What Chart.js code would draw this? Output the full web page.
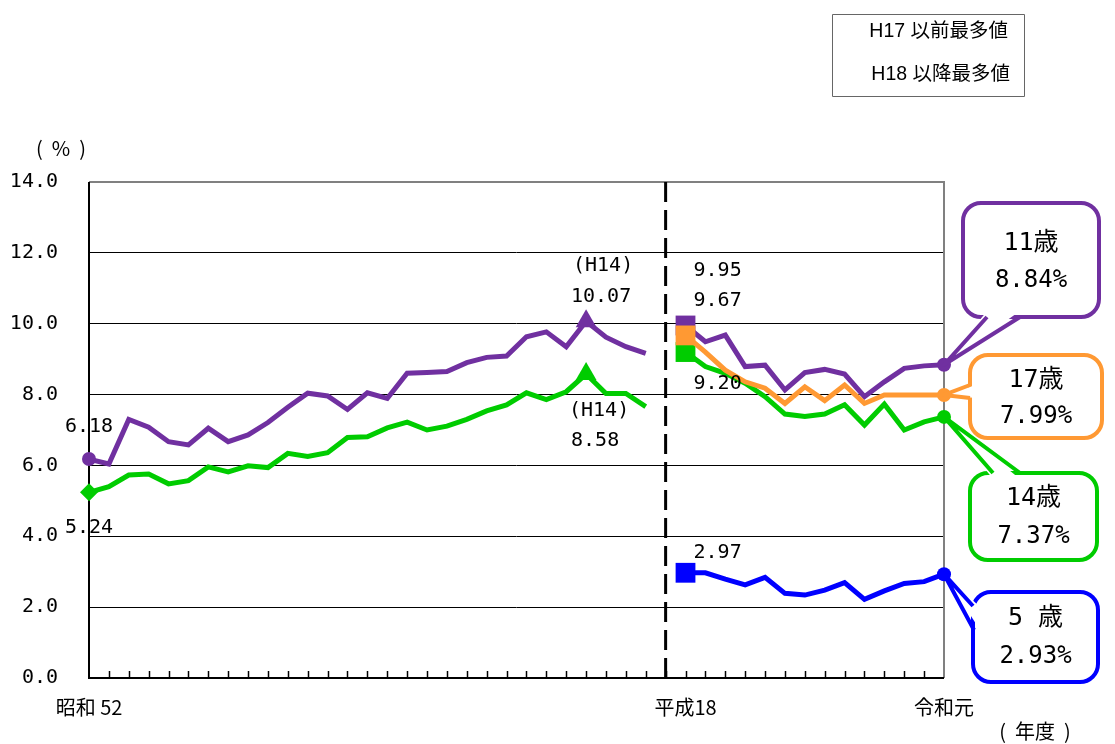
<!DOCTYPE html>
<html><head><meta charset="utf-8">
<script src="https://cdn.jsdelivr.net/npm/chart.js@4.4.0/dist/chart.umd.min.js"></script>
<style>html,body{margin:0;padding:0;background:#fff;}#wrap{width:1115px;height:744px;}</style>
</head><body><div id="wrap"><canvas id="c" width="1115" height="744"></canvas></div>
<script>
const categories = ['S52','S53','S54','S55','S56','S57','S58','S59','S60','S61','S62','S63',
  'H1','H2','H3','H4','H5','H6','H7','H8','H9','H10','H11','H12','H13','H14','H15','H16','H17',
  '',
  'H18','H19','H20','H21','H22','H23','H24','H25','H26','H27','H28','H29','H30','R1'];
const tickLabels = {0:'昭和 52', 30:'平成18', 43:'令和元'};
const purpleH17 = [6.18,6.04,7.30,7.08,6.67,6.58,7.05,6.67,6.86,7.21,7.64,8.04,7.96,7.58,8.05,7.89,8.60,8.62,8.65,8.90,9.05,9.09,9.63,9.77,9.35,10.07,9.62,9.35,9.16];
const greenH17  = [5.24,5.40,5.73,5.76,5.48,5.57,5.96,5.82,5.99,5.94,6.34,6.25,6.36,6.79,6.81,7.06,7.22,7.00,7.11,7.30,7.54,7.71,8.05,7.86,8.08,8.58,8.03,8.03,7.66];
const purpleH18 = [9.95,9.49,9.68,8.79,8.83,8.13,8.62,8.71,8.58,7.94,8.36,8.74,8.81,8.84];
const orangeH18 = [9.67,9.20,8.69,8.36,8.18,7.75,8.22,7.83,8.27,7.75,7.99,7.99,7.99,7.99];
const greenH18  = [9.20,8.79,8.60,8.32,7.94,7.45,7.38,7.45,7.71,7.14,7.73,7.00,7.23,7.37];
const blueH18   = [2.97,2.97,2.79,2.63,2.84,2.39,2.34,2.48,2.69,2.22,2.46,2.67,2.72,2.93];
const peakLeftIndex = 25;   // H14
const gapIndex = 29;
const callouts = [
  {name:'11歳', value:'8.84%', color:'#7030A0'},
  {name:'17歳', value:'7.99%', color:'#FF9933'},
  {name:'14歳', value:'7.37%', color:'#00CC00'},
  {name:'5 歳', value:'2.93%', color:'#0000FF'}
];
const legendTexts = ['H17 以前最多値','H18 以降最多値'];

const PURPLE='#7030A0', ORANGE='#FF9933', GREEN='#00CC00', BLUE='#0000FF';
const MONO='"DejaVu Sans Mono", monospace';
const CJK='"Noto Sans CJK JP", sans-serif';
const N = categories.length;
const leftPad = arr => arr.concat(new Array(N - arr.length).fill(null));
const rightPad = arr => new Array(N - arr.length).fill(null).concat(arr);
const firstRight = N - purpleH18.length;

function leftStyle(diamond){
  return {
    pointStyle: ctx => ctx.dataIndex === 0 ? (diamond ? 'rectRot' : 'circle') : (ctx.dataIndex === peakLeftIndex ? 'triangle' : 'circle'),
    pointRadius: ctx => ctx.dataIndex === 0 ? (diamond ? 9 : 7) : (ctx.dataIndex === peakLeftIndex ? 12 : 0)
  };
}
function rightStyle(){
  return {
    pointStyle: ctx => ctx.dataIndex === firstRight ? 'rect' : 'circle',
    pointRadius: ctx => ctx.dataIndex === firstRight ? 14 : (ctx.dataIndex === N-1 ? 7 : 0)
  };
}
function ds(data, color, style, order){
  return Object.assign({data, borderColor:color, backgroundColor:color, pointBackgroundColor:color,
    pointBorderColor:color, pointBorderWidth:0, borderWidth:5, tension:0, spanGaps:false,
    borderJoinStyle:'miter', pointHoverRadius:0, order, fill:false}, style);
}

const framePlugin = {
  id:'frame',
  beforeDatasetsDraw(chart){
    const {ctx, chartArea:a, scales:{x}} = chart;
    ctx.save();
    ctx.lineWidth = 2;
    ctx.strokeStyle = '#808080';
    ctx.beginPath(); ctx.moveTo(a.left,a.top); ctx.lineTo(a.right,a.top); ctx.lineTo(a.right,a.bottom); ctx.stroke();
    ctx.strokeStyle = '#000';
    ctx.beginPath(); ctx.moveTo(a.left,a.top); ctx.lineTo(a.left,a.bottom); ctx.lineTo(a.right,a.bottom); ctx.stroke();
    ctx.lineWidth = 1.5;
    for (let i = 1; i < N-1; i++){
      const px = Math.round(x.getPixelForValue(i)) + 0.5;
      ctx.beginPath(); ctx.moveTo(px, a.bottom); ctx.lineTo(px, a.bottom-7); ctx.stroke();
    }
    const gx = x.getPixelForValue(gapIndex);
    ctx.lineWidth = 3; ctx.setLineDash([20,8]);
    ctx.beginPath(); ctx.moveTo(gx, a.top); ctx.lineTo(gx, a.bottom); ctx.stroke();
    ctx.restore();
  }
};

function roundRect(ctx,x,y,w,h,r){
  ctx.beginPath();
  ctx.moveTo(x+r,y); ctx.lineTo(x+w-r,y); ctx.arcTo(x+w,y,x+w,y+r,r);
  ctx.lineTo(x+w,y+h-r); ctx.arcTo(x+w,y+h,x+w-r,y+h,r);
  ctx.lineTo(x+r,y+h); ctx.arcTo(x,y+h,x,y+h-r,r);
  ctx.lineTo(x,y+r); ctx.arcTo(x,y,x+r,y,r); ctx.closePath();
}

const labelPlugin = {
  id:'labels',
  afterDatasetsDraw(chart){
    const {ctx, scales:{x,y}} = chart;
    const P = (i,v) => [x.getPixelForValue(i), y.getPixelForValue(v)];
    ctx.save();
    ctx.fillStyle = '#000';
    ctx.textBaseline = 'middle';
    ctx.font = '20px ' + MONO;
    ctx.textAlign = 'center';
    let p = P(0, purpleH17[0]); ctx.fillText(purpleH17[0].toFixed(2), p[0], p[1]-32);
    p = P(0, greenH17[0]); ctx.fillText(greenH17[0].toFixed(2), p[0], p[1]+35);
    p = P(peakLeftIndex, purpleH17[peakLeftIndex]);
    ctx.fillText('(H14)', p[0]+17, p[1]-55); ctx.fillText(purpleH17[peakLeftIndex].toFixed(2), p[0]+15, p[1]-24);
    p = P(peakLeftIndex, greenH17[peakLeftIndex]);
    ctx.fillText('(H14)', p[0]+13, p[1]+37); ctx.fillText(greenH17[peakLeftIndex].toFixed(2), p[0]+9, p[1]+67);
    ctx.textAlign = 'left';
    p = P(firstRight, purpleH18[0]); ctx.fillText(purpleH18[0].toFixed(2), p[0]+8, p[1]-55);
    p = P(firstRight, orangeH18[0]); ctx.fillText(orangeH18[0].toFixed(2), p[0]+8, p[1]-35);
    p = P(firstRight, greenH18[0]); ctx.fillText(greenH18[0].toFixed(2), p[0]+8, p[1]+32);
    p = P(firstRight, blueH18[0]); ctx.fillText(blueH18[0].toFixed(2), p[0]+8, p[1]-20);

    // callouts
    const last = N-1;
    const tips = [P(last, purpleH18[13]), P(last, orangeH18[13]), P(last, greenH18[13]), P(last, blueH18[13])];
    const boxes = [
      {x:963,y:203,w:136,h:114, b1:[987,317], b2:[1020,317], in:[0,-4]},
      {x:970,y:355,w:132,h:83, b1:[970,385], b2:[970,398], in:[4,0]},
      {x:970,y:473,w:127,h:87, b1:[993,473], b2:[1020,473], in:[0,4]},
      {x:973,y:592,w:125,h:90, b1:[973,606], b2:[974,630], in:[4,0]}
    ];
    const textY = [[243,281],[380,417],[498,537],[618,657]];
    boxes.forEach((b,k)=>{
      const c = callouts[k].color, t = tips[k];
      ctx.lineWidth = 4; ctx.strokeStyle = c; ctx.fillStyle = '#fff';
      roundRect(ctx,b.x,b.y,b.w,b.h,18); ctx.fill(); ctx.stroke();
      ctx.beginPath();
      ctx.moveTo(b.b1[0]+b.in[0]*1.5, b.b1[1]+b.in[1]*1.5);
      ctx.lineTo(t[0],t[1]);
      ctx.lineTo(b.b2[0]+b.in[0]*1.5, b.b2[1]+b.in[1]*1.5);
      ctx.closePath(); ctx.fill();
      ctx.lineJoin = 'round';
      ctx.beginPath(); ctx.moveTo(b.b1[0],b.b1[1]); ctx.lineTo(t[0],t[1]); ctx.lineTo(b.b2[0],b.b2[1]); ctx.stroke();
      ctx.fillStyle = '#000'; ctx.textAlign = 'center';
      const cx = b.x + b.w/2;
      ctx.font = '25px ' + MONO + ', ' + CJK;
      ctx.fillText(callouts[k].name, cx, textY[k][0]);
      ctx.font = '24px ' + MONO;
      ctx.fillText(callouts[k].value, cx, textY[k][1]);
    });

    // unit labels
    ctx.font = '20px ' + CJK; ctx.textAlign = 'center';
    ctx.fillText('(  %  )', 61, 148);
    ctx.fillText('(  年度  )', 1035, 731);

    // legend box
    ctx.lineWidth = 1; ctx.strokeStyle = '#666';
    ctx.strokeRect(832.5, 14.5, 192, 82);
    ctx.font = '19.5px "Liberation Sans", ' + CJK; ctx.textAlign = 'right';
    ctx.fillText(legendTexts[0], 1008, 32);
    ctx.fillText(legendTexts[1], 1010, 75);
    ctx.restore();
  }
};

new Chart(document.getElementById('c'), {
  type:'line',
  data:{
    labels: categories,
    datasets:[
      ds(leftPad(purpleH17), PURPLE, leftStyle(false), 3),
      ds(leftPad(greenH17), GREEN, leftStyle(true), 4),
      ds(rightPad(purpleH18), PURPLE, rightStyle(), 2),
      ds(rightPad(greenH18), GREEN, rightStyle(), 1),
      ds(rightPad(orangeH18), ORANGE, rightStyle(), 0),
      ds(rightPad(blueH18), BLUE, rightStyle(), 5)
    ]
  },
  options:{
    responsive:false, animation:false,
    layout:{padding:{left:0, right:171, top:182, bottom:0}},
    plugins:{legend:{display:false}, tooltip:{enabled:false}},
    events:[],
    scales:{
      x:{
        type:'category', offset:false,
        grid:{display:false}, border:{display:false},
        ticks:{autoSkip:false, maxRotation:0, minRotation:0, padding:9, color:'#000',
          font:{family:CJK, size:20},
          callback:(v,i)=> tickLabels[i] || ''},
        afterFit: s => { s.height = 66; }
      },
      y:{
        min:0, max:14,
        grid:{color: c => c.tick.value === 14 ? 'rgba(0,0,0,0)' : '#000', lineWidth:1, drawTicks:false},
        border:{display:false},
        ticks:{stepSize:2, padding:31, color:'#000', font:{family:MONO, size:20},
          callback: v => Number(v).toFixed(1)},
        afterFit: s => { s.width = 89; }
      }
    }
  },
  plugins:[framePlugin, labelPlugin]
});
</script>
</body></html>
